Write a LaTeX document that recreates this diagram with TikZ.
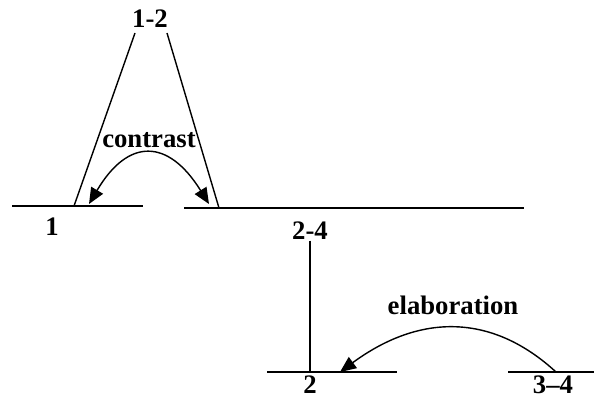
\documentclass[tikz,border=0pt]{standalone}
\usepackage{fontspec}
\setmainfont{Liberation Serif}
\usetikzlibrary{arrows.meta}

\begin{document}
\begin{tikzpicture}[line width=1pt,>={Triangle[length=4mm,width=3.4mm]},
  etiq/.style={font=\fontsize{19}{21}\selectfont\bfseries,inner sep=0pt}]
  \useasboundingbox (0,0) rectangle (14.85,9.95);
  % segmentos
  \draw (0.3,4.8)--(3.575,4.8);
  \draw (4.6,4.75)--(13.1,4.75);
  \draw (6.675,0.65)--(9.925,0.65);
  \draw (12.7,0.65)--(14.85,0.65);
  % etiquetas
  \node[etiq] (n12) at (3.75,9.475){1-2};
  \node[etiq] (n1) at (1.3,4.29){1};
  \node[etiq] (n24) at (7.75,4.175){2-4};
  \node[etiq] (n2) at (7.75,0.34){2};
  \node[etiq] (n34) at (13.825,0.34){3--4};
  \node[etiq] (contr) at (3.725,6.45){contrast};
  \node[etiq] (elab) at (11.325,2.325){elaboration};
  % puntos de union
  \coordinate (t1) at (3.375,9.125);
  \coordinate (t2) at (4.175,9.125);
  \coordinate (b1) at (1.85,4.8);
  \coordinate (b2) at (5.475,4.75);
  \coordinate (b3) at (7.75,0.65);
  \coordinate (c1) at (2.225,4.85);
  \coordinate (c2) at (5.225,4.85);
  \coordinate (e1) at (13.9,0.65);
  \coordinate (e2) at (8.5,0.65);
  % ramas
  \draw (t1)--(b1);
  \draw (t2)--(b2);
  \draw (n24.south)--(b3);
  % relaciones
  \draw[<->] (c1) .. controls (3.2,6.5) and (4.2,6.5) .. (c2);
  \draw[->] (e1) .. controls (12.3,2.12) and (10.5,2.12) .. (e2);
\end{tikzpicture}
\end{document}
